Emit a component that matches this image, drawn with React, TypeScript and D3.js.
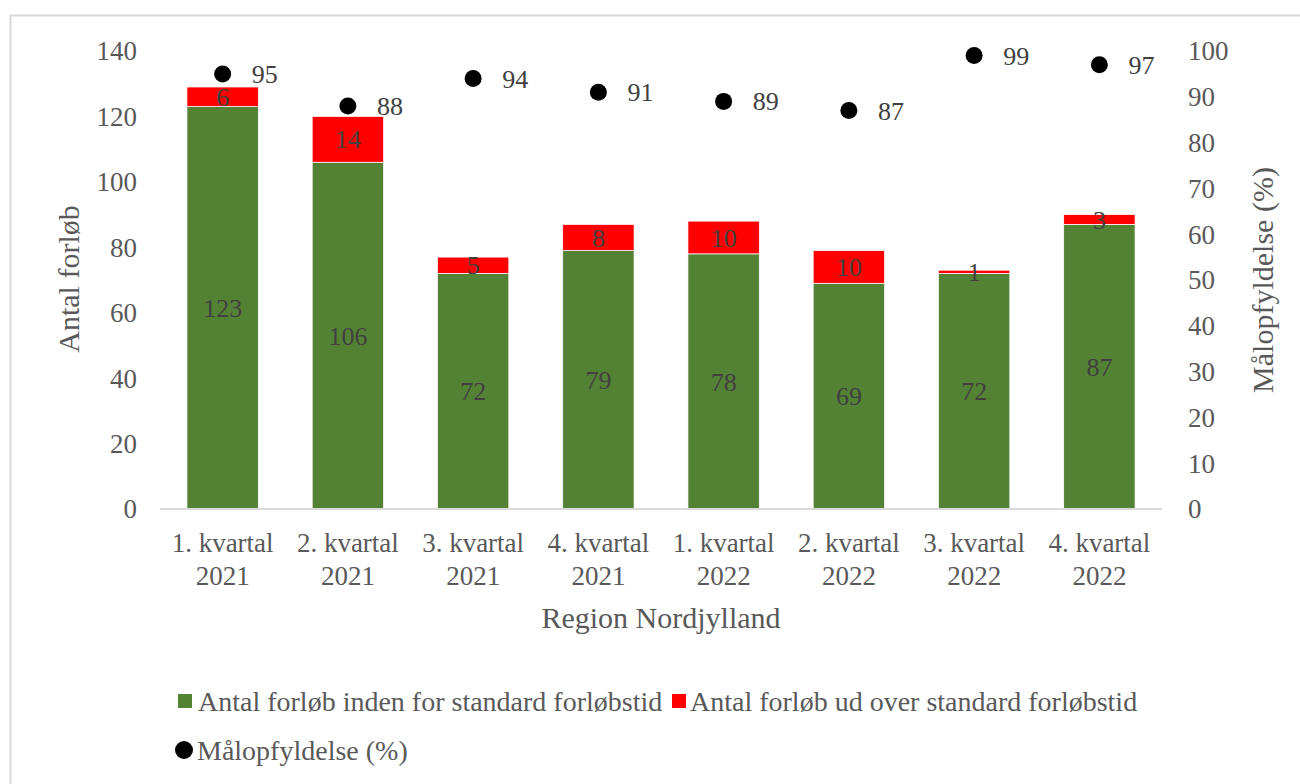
import React from "react";
import * as d3 from "d3";

const categories: string[][] = [
  ["1. kvartal", "2021"],
  ["2. kvartal", "2021"],
  ["3. kvartal", "2021"],
  ["4. kvartal", "2021"],
  ["1. kvartal", "2022"],
  ["2. kvartal", "2022"],
  ["3. kvartal", "2022"],
  ["4. kvartal", "2022"],
];
const withinStandard: number[] = [123, 106, 72, 79, 78, 69, 72, 87];
const overStandard: number[] = [6, 14, 5, 8, 10, 10, 1, 3];
const goalPct: number[] = [95, 88, 94, 91, 89, 87, 99, 97];
const leftTicks: number[] = [0, 20, 40, 60, 80, 100, 120, 140];
const rightTicks: number[] = [0, 10, 20, 30, 40, 50, 60, 70, 80, 90, 100];

const seriesNames = [
  "Antal forløb inden for standard forløbstid",
  "Antal forløb ud over standard forløbstid",
  "Målopfyldelse (%)",
];
const xTitle = "Region Nordjylland";
const yLeftTitle = "Antal forløb";
const yRightTitle = "Målopfyldelse (%)";

const GREEN = "#548235";
const RED = "#FF0000";
const FONT = "'Liberation Serif', 'Times New Roman', serif";
const TICK = "#595959";
const LABEL = "#404040";

export default function App() {
  const W = 1300;
  const H = 784;
  const x0 = 160, x1 = 1162, yBase = 509, yTop = 51;
  const idx = categories.map((_, i) => String(i));
  const x = d3.scaleBand<string>().domain(idx).range([x0, x1]).paddingInner(0.43).paddingOuter(0.215);
  const yL = d3.scaleLinear().domain([0, 140]).range([yBase, yTop]);
  const yR = d3.scaleLinear().domain([0, 100]).range([yBase, yTop]);
  const bw = x.bandwidth();

  return (
    <svg width={W} height={H} style={{ position: "fixed", left: 0, top: 0, background: "#fff" }} fontFamily={FONT}>
      <rect x={0} y={0} width={W} height={H} fill="#fff" />
      <rect x={10.5} y={15.5} width={W + 20} height={H + 20} fill="none" stroke="#d9d9d9" strokeWidth={2} />

      {/* bars */}
      {withinStandard.map((g, i) => {
        const r = overStandard[i];
        const bx = x(String(i))!;
        return (
          <g key={"b" + i}>
            <rect x={bx} y={yL(g)} width={bw} height={yL(0) - yL(g)} fill={GREEN} stroke="#fff" strokeWidth={0.75} />
            <rect x={bx} y={yL(g + r)} width={bw} height={yL(g) - yL(g + r)} fill={RED} stroke="#fff" strokeWidth={0.75} />
          </g>
        );
      })}

      {/* baseline */}
      <line x1={x0} x2={x1} y1={yBase} y2={yBase} stroke="#d9d9d9" strokeWidth={2} />

      {/* bar labels */}
      {withinStandard.map((g, i) => {
        const r = overStandard[i];
        const cx = x(String(i))! + bw / 2;
        return (
          <g key={"l" + i} fontSize={26} fill={LABEL} textAnchor="middle">
            <text x={cx} y={yL(g / 2)} dy="0.35em">{g}</text>
            <text x={cx} y={yL(g + r / 2)} dy="0.35em">{r}</text>
          </g>
        );
      })}

      {/* dots */}
      {goalPct.map((p, i) => {
        const cx = x(String(i))! + bw / 2;
        return (
          <g key={"d" + i}>
            <circle cx={cx} cy={yR(p)} r={8.5} fill="#000" />
            <text x={cx + 29} y={yR(p)} dy="0.35em" fontSize={26} fill={LABEL}>{p}</text>
          </g>
        );
      })}

      {/* left ticks */}
      {leftTicks.map((t) => (
        <text key={"lt" + t} x={137} y={yL(t)} dy="0.35em" textAnchor="end" fontSize={27} fill={TICK}>{t}</text>
      ))}
      {/* right ticks */}
      {rightTicks.map((t) => (
        <text key={"rt" + t} x={1188} y={yR(t)} dy="0.35em" textAnchor="start" fontSize={27} fill={TICK}>{t}</text>
      ))}

      {/* category labels */}
      {categories.map((c, i) => {
        const cx = x(String(i))! + bw / 2;
        return (
          <text key={"c" + i} x={cx} textAnchor="middle" fontSize={27} fill={TICK}>
            <tspan x={cx} y={552}>{c[0]}</tspan>
            <tspan x={cx} y={585}>{c[1]}</tspan>
          </text>
        );
      })}

      {/* axis titles */}
      <text x={(x0 + x1) / 2} y={628} textAnchor="middle" fontSize={30} fill={TICK}>{xTitle}</text>
      <text transform={`translate(68,279) rotate(-90)`} dy="0.35em" textAnchor="middle" fontSize={30} fill={TICK}>{yLeftTitle}</text>
      <text transform={`translate(1262,280) rotate(-90)`} dy="0.35em" textAnchor="middle" fontSize={30} fill={TICK}>{yRightTitle}</text>

      {/* legend */}
      <rect x={178} y={694} width={14} height={14} fill={GREEN} />
      <text x={198} y={701} dy="0.35em" fontSize={28} fill={TICK}>{seriesNames[0]}</text>
      <rect x={672} y={694} width={14} height={14} fill={RED} />
      <text x={690} y={701} dy="0.35em" fontSize={28} fill={TICK}>{seriesNames[1]}</text>
      <circle cx={184} cy={750} r={9} fill="#000" />
      <text x={197} y={750} dy="0.35em" fontSize={28} fill={TICK}>{seriesNames[2]}</text>
    </svg>
  );
}
